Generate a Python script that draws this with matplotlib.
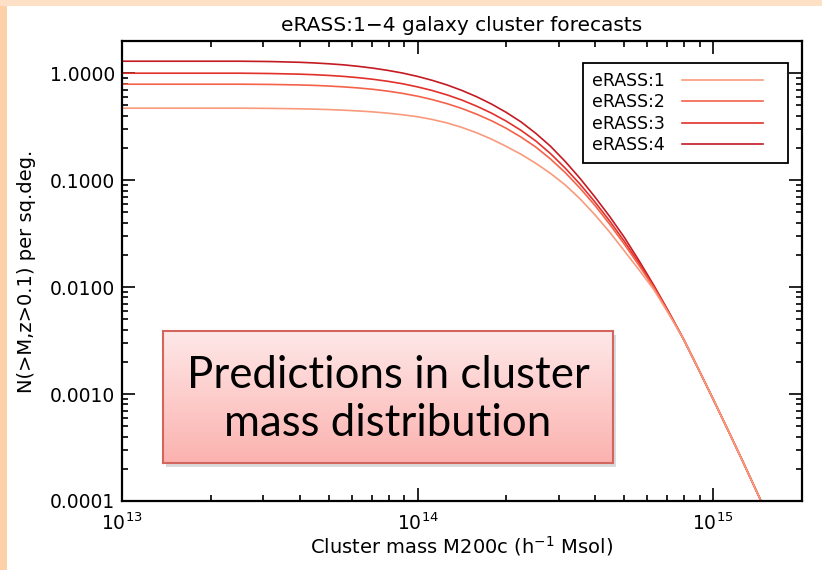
import numpy as np
import matplotlib.pyplot as plt
from matplotlib.patches import Rectangle
from matplotlib.legend_handler import HandlerLine2D
from matplotlib.ticker import FormatStrFormatter, LogLocator


## log10 of cumulative counts N(>M, z>0.1) per sq.deg. for each survey depth
log_mass = [13.0, 13.2, 13.4, 13.5, 13.6, 13.65, 13.7, 13.75, 13.8, 13.85, 13.9, 13.95,
            14.0, 14.05, 14.1, 14.15, 14.2, 14.25, 14.3, 14.35, 14.4, 14.45, 14.5, 14.55,
            14.6, 14.65, 14.7, 14.75, 14.8, 14.85, 14.9, 14.95, 15.0, 15.05, 15.1, 15.16]

log_n_erass1 = [-0.327, -0.327, -0.327, -0.329, -0.333, -0.336, -0.340, -0.346, -0.353, -0.362,
                -0.374, -0.389, -0.407, -0.433, -0.465, -0.507, -0.557, -0.616, -0.684, -0.758,
                -0.842, -0.937, -1.045, -1.175, -1.323, -1.485, -1.662, -1.840, -2.025, -2.250,
                -2.486, -2.763, -3.046, -3.334, -3.626, -3.986]
log_n_erass2 = [-0.103, -0.103, -0.103, -0.105, -0.110, -0.114, -0.120, -0.128, -0.138, -0.151,
                -0.168, -0.189, -0.215, -0.247, -0.285, -0.330, -0.383, -0.444, -0.515, -0.597,
                -0.690, -0.802, -0.930, -1.075, -1.235, -1.411, -1.600, -1.799, -2.007, -2.240,
                -2.486, -2.763, -3.046, -3.334, -3.626, -3.986]
log_n_erass3 = [0.000, 0.000, 0.000, -0.003, -0.009, -0.014, -0.021, -0.030, -0.042, -0.057,
                -0.076, -0.099, -0.128, -0.162, -0.203, -0.251, -0.308, -0.373, -0.448, -0.534,
                -0.633, -0.752, -0.888, -1.038, -1.203, -1.381, -1.573, -1.779, -1.997, -2.235,
                -2.486, -2.763, -3.046, -3.334, -3.626, -3.986]
log_n_erass4 = [0.112, 0.112, 0.112, 0.109, 0.102, 0.096, 0.088, 0.078, 0.064, 0.047,
                0.026, 0.001, -0.030, -0.067, -0.110, -0.161, -0.220, -0.288, -0.366, -0.455,
                -0.562, -0.683, -0.826, -0.984, -1.156, -1.339, -1.536, -1.755, -1.985, -2.230,
                -2.486, -2.763, -3.046, -3.334, -3.626, -3.986]

labels = ['eRASS:1', 'eRASS:2', 'eRASS:3', 'eRASS:4']
colors = ['#f99a7c', '#f4624a', '#e2302b', '#c41a22']
y_ticks = [0.0001, 0.001, 0.01, 0.1, 1.0]

mass = 10**np.array(log_mass)
counts = [10**np.array(v) for v in (log_n_erass1, log_n_erass2, log_n_erass3, log_n_erass4)]


class ShortLine(HandlerLine2D):
    """Legend line that leaves some blank room on its right."""
    def create_artists(self, legend, orig_handle, xdescent, ydescent,
                       width, height, fontsize, trans):
        return super().create_artists(legend, orig_handle, xdescent, ydescent,
                                      width*0.83, height, fontsize, trans)


## Figure with peach slide border
fig = plt.figure(figsize=(8.22, 5.70), dpi=100)
fig.patches.append(Rectangle((0, 0), 7/822, 1, transform=fig.transFigure,
                             facecolor='#fdd0a8', edgecolor='none', zorder=0))
fig.patches.append(Rectangle((0, 1 - 6/570), 1, 6/570, transform=fig.transFigure,
                             facecolor='#fde0c6', edgecolor='none', zorder=0))

ax = fig.add_axes([122/822, 1 - 501/570, 680/822, 460/570])

# draw deepest survey first so eRASS:1 sits on top where curves merge
handles = [None]*4
for i in reversed(range(4)):
    handles[i], = ax.plot(mass, counts[i], color=colors[i], lw=1.2, label=labels[i])

ax.set_xscale('log')
ax.set_yscale('log')
ax.set_xlim(1e13, 2e15)
ax.set_ylim(1e-4, 2.0)

ax.set_yticks(y_ticks)
ax.yaxis.set_major_formatter(FormatStrFormatter('%.4f'))
ax.yaxis.set_minor_locator(LogLocator(base=10, subs=np.arange(2, 10)))

ax.tick_params(axis='both', which='both', direction='in',
               top=True, right=True, labelsize=13.5, width=1.2)
ax.tick_params(axis='both', which='major', length=9.5)
ax.tick_params(axis='both', which='minor', length=4.5)
ax.tick_params(axis='x', which='major', pad=8)
ax.tick_params(axis='y', which='major', pad=5)
for spine in ax.spines.values():
    spine.set_linewidth(1.6)

ax.set_title('eRASS:1\u22124 galaxy cluster forecasts', fontsize=14.5, pad=7)
ax.set_xlabel('Cluster mass M200c (h$^{-1}$ Msol)', fontsize=14)
ax.set_ylabel('N(>M,z>0.1) per sq.deg.', fontsize=14)
ax.xaxis.set_label_coords(0.5, -0.072)
ax.yaxis.set_label_coords(-0.127, 0.5)

leg = ax.legend(handles=handles, loc='upper right', bbox_to_anchor=(0.979, 0.952),
                borderaxespad=0, markerfirst=False, fontsize=12.5,
                handlelength=5.6, handletextpad=1.0, labelspacing=0.2,
                fancybox=False, edgecolor='black', framealpha=1,
                borderpad=0.5, handler_map={h: ShortLine() for h in handles})
leg.get_frame().set_linewidth(1.3)


## Highlight box
bx0, by0, bw, bh = 163/822, 1 - 463/570, 450/822, 132/570
fig.patches.append(Rectangle((bx0 + 3/822, by0 - 4/570), bw, bh, transform=fig.transFigure,
                             facecolor='#999999', alpha=0.35, edgecolor='none', zorder=5))
box_ax = fig.add_axes([bx0, by0, bw, bh], zorder=6)
grad = np.linspace(0, 1, 256).reshape(-1, 1)
top_rgb = np.array([254, 232, 232]) / 255
bot_rgb = np.array([251, 178, 175]) / 255
img = top_rgb[None, None, :]*(1 - grad[:, :, None]) + bot_rgb[None, None, :]*grad[:, :, None]
box_ax.imshow(img, aspect='auto', extent=[0, 1, 0, 1])
box_ax.set_xticks([])
box_ax.set_yticks([])
for spine in box_ax.spines.values():
    spine.set_color('#d2655e')
    spine.set_linewidth(1.5)
box_ax.text(0.5, 0.66, 'Predictions in cluster', ha='center', va='center',
            fontsize=31.5, family='Lato', transform=box_ax.transAxes)
box_ax.text(0.5, 0.30, 'mass distribution', ha='center', va='center',
            fontsize=31.5, family='Lato', transform=box_ax.transAxes)

fig.savefig('out.png', dpi=100)
